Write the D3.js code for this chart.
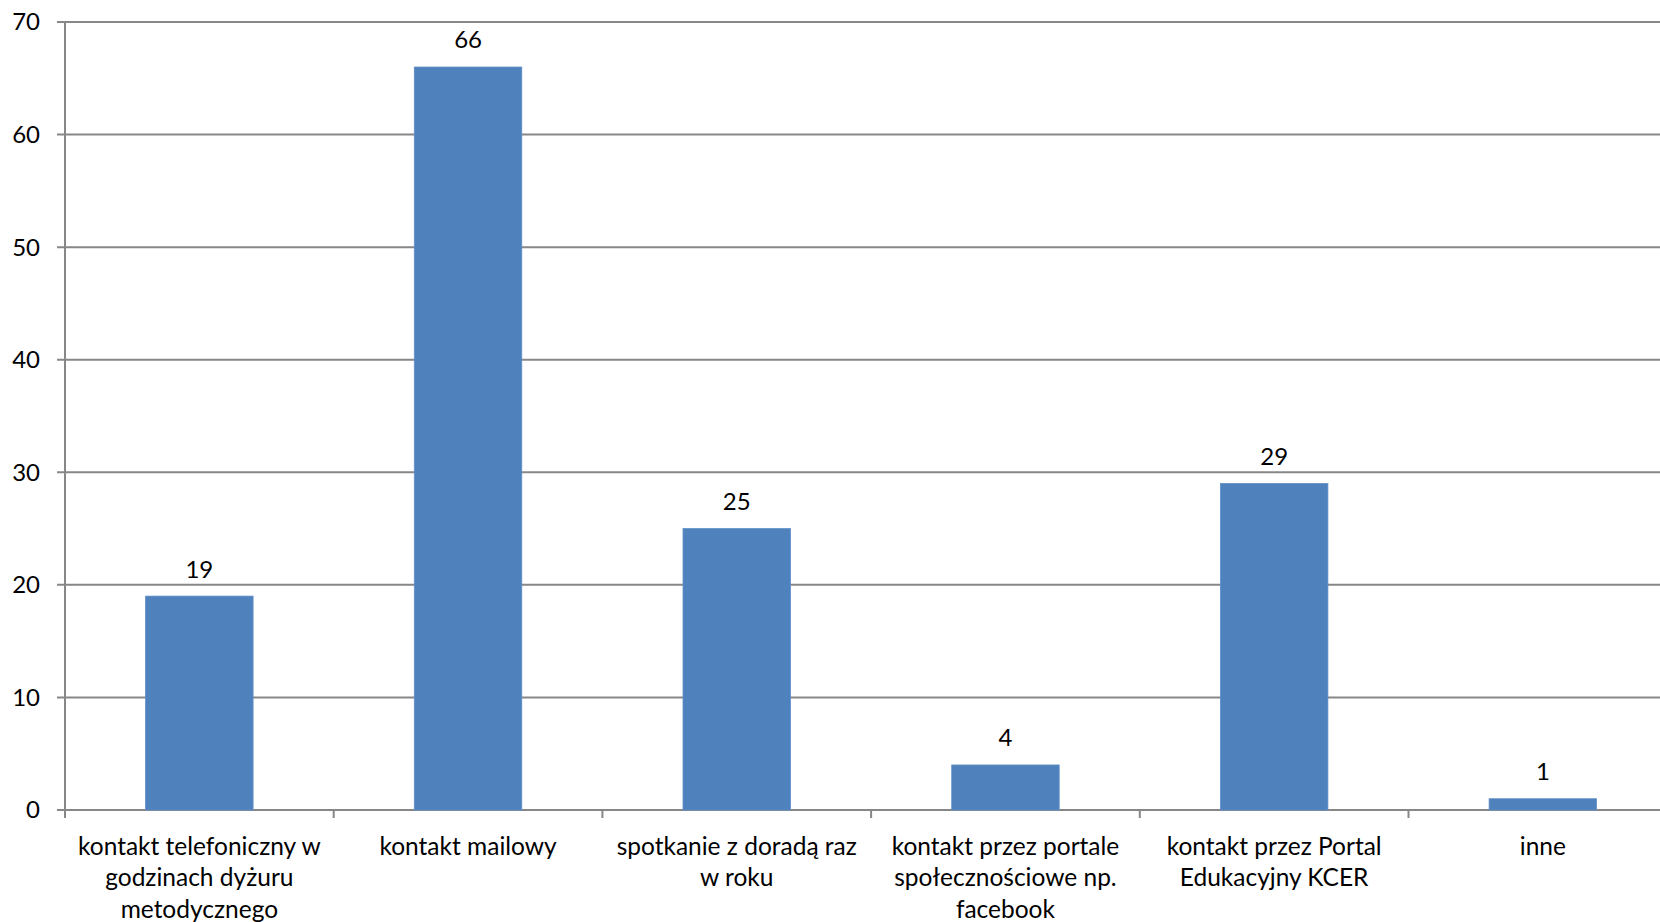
<!DOCTYPE html>
<html>
<head>
<meta charset="utf-8">
<script src="https://cdn.jsdelivr.net/npm/d3@7"></script>
<style>
  body { margin: 0; background: #fff; }
  text { font-family: Lato, "Open Sans", sans-serif; fill: #000; }
</style>
</head>
<body>
<svg id="chart"></svg>
<script>
// categories (line breaks as in the original axis)
let categories = [
    "kontakt telefoniczny w\ngodzinach dyżuru\nmetodycznego",
    "kontakt mailowy",
    "spotkanie z doradą raz\nw roku",
    "kontakt przez portale\nspołecznościowe np.\nfacebook",
    "kontakt przez Portal\nEdukacyjny KCER",
    "inne"
];
let values = [19, 66, 25, 4, 29, 1];
let yTicks = [0, 10, 20, 30, 40, 50, 60, 70];

let width = 1660;
let height = 922;
let plotLeft = 65;
let plotTop = 22;
let plotBottom = 810;
let band = 268.7;

let svg = d3.select("#chart").attr("width", width).attr("height", height);

let x = d3.scaleBand()
    .domain(d3.range(categories.length))
    .range([plotLeft, plotLeft + band * categories.length])
    .paddingInner(0.6).paddingOuter(0.3);

let y = d3.scaleLinear().domain([0, 70]).range([plotBottom, plotTop]);

// gridlines
svg.append("g")
    .selectAll("line")
    .data(yTicks)
    .enter().append("line")
    .attr("x1", plotLeft - 8).attr("x2", width)
    .attr("y1", d => y(d)).attr("y2", d => y(d))
    .attr("stroke", "#878787").attr("stroke-width", 2);

// y axis line
svg.append("line")
    .attr("x1", plotLeft).attr("x2", plotLeft)
    .attr("y1", plotTop).attr("y2", plotBottom + 8)
    .attr("stroke", "#878787").attr("stroke-width", 2);

// y tick labels
svg.append("g")
    .selectAll("text")
    .data(yTicks)
    .enter().append("text")
    .attr("x", plotLeft - 25)
    .attr("y", d => y(d))
    .attr("dy", "0.35em")
    .attr("text-anchor", "end")
    .style("font-size", "24px")
    .text(d => d);

// x ticks at band boundaries
let edges = d3.range(categories.length + 1).map(i => plotLeft + i * band);
svg.append("g")
    .selectAll("line")
    .data(edges)
    .enter().append("line")
    .attr("x1", d => d).attr("x2", d => d)
    .attr("y1", plotBottom).attr("y2", plotBottom + 8)
    .attr("stroke", "#878787").attr("stroke-width", 2);

// bars
svg.append("g")
    .selectAll("rect")
    .data(values)
    .enter().append("rect")
    .attr("x", (d, i) => x(i))
    .attr("y", d => y(d))
    .attr("width", x.bandwidth())
    .attr("height", d => plotBottom - y(d))
    .attr("fill", "#4f81bd")
    .attr("stroke", "#5f8fc8").attr("stroke-width", 0.8);

// value labels
svg.append("g")
    .selectAll("text")
    .data(values)
    .enter().append("text")
    .attr("x", (d, i) => x(i) + x.bandwidth() / 2)
    .attr("y", d => y(d) - 27)
    .attr("dy", "0.35em")
    .attr("text-anchor", "middle")
    .style("font-size", "24px")
    .text(d => d);

// category labels
let labels = svg.append("g")
    .selectAll("text")
    .data(categories)
    .enter().append("text")
    .attr("text-anchor", "middle")
    .style("font-size", "24.5px");

labels.selectAll("tspan")
    .data((d, i) => d.split("\n").map(s => ({s: s, i: i})))
    .enter().append("tspan")
    .attr("x", d => x(d.i) + x.bandwidth() / 2)
    .attr("y", (d, j) => 846 + j * 31.5)
    .attr("dy", "0.35em")
    .text(d => d.s);
</script>
</body>
</html>
